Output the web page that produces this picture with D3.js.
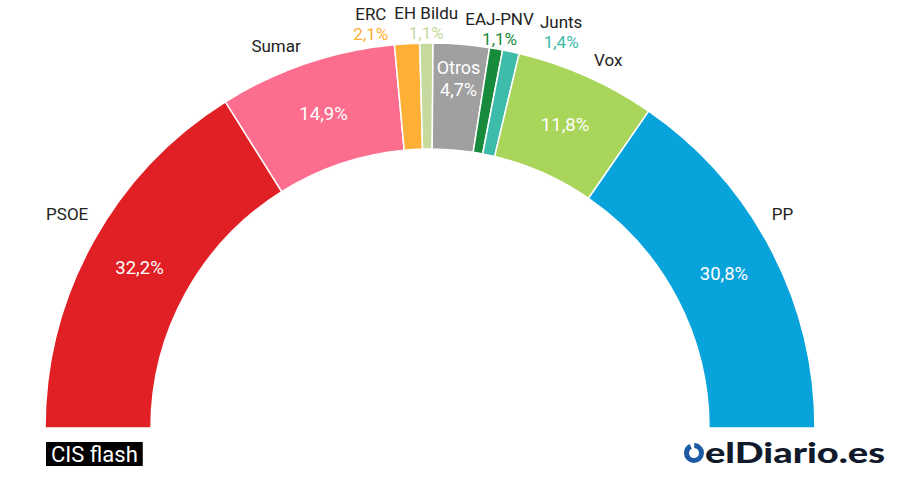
<!DOCTYPE html>
<html>
<head>
<meta charset="utf-8">
<script src="https://cdn.jsdelivr.net/npm/d3@7"></script>
<style>
  body { margin: 0; background: #fff; }
  svg { display: block; font-family: Roboto, "Noto Sans", sans-serif; }
</style>
</head>
<body>
<svg width="900" height="501"></svg>
<script>
"use strict";

// data, left to right along the arc
const parties = ["PSOE", "Sumar", "ERC", "EH Bildu", "Otros", "EAJ-PNV", "Junts", "Vox", "PP"];
const shares = [32.2, 14.9, 2.1, 1.1, 4.7, 1.1, 1.4, 11.8, 30.8];
const colors = ["#e02025", "#fd6d8d", "#fdb035", "#c6da9d", "#a0a0a0", "#178a3b", "#3dbcaa", "#a9d55a", "#09a3dc"];
const sourceLabel = "CIS flash";

const svg = d3.select("svg");

const cx = 430,
  cy = 428,
  outerR = 385,
  innerR = 279;

const data = parties.map((p, i) => ({ party: p, value: shares[i], color: colors[i] }));
const fmt = (v) => d3.format(".1f")(v).replace(".", ",") + "%";

const pie = d3
  .pie()
  .sort(null)
  .value((d) => d.value)
  .startAngle(-Math.PI / 2)
  .endAngle(Math.PI / 2);

const arc = d3.arc().innerRadius(innerR).outerRadius(outerR);
const arcs = pie(data);

const g = svg.append("g").attr("transform", `translate(${cx},${cy})`);

g.selectAll("path")
  .data(arcs)
  .enter()
  .append("path")
  .attr("d", arc)
  .attr("fill", (d) => d.data.color)
  .attr("stroke", "#fff")
  .attr("stroke-width", 1.5);

// point at radius r on the middle angle of a slice (angle can be clamped)
const maxLabelAngle = (58 * Math.PI) / 180;
const polar = (d, r, clamp) => {
  let a = (d.startAngle + d.endAngle) / 2;
  if (clamp) a = Math.max(-maxLabelAngle, Math.min(maxLabelAngle, a));
  return [r * Math.sin(a), -r * Math.cos(a)];
};

const big = arcs.filter((d) => d.data.value >= 10);
const mid = arcs.filter((d) => d.data.value >= 2.5 && d.data.value < 10);
const small = arcs.filter((d) => d.data.value < 2.5);

// big slices: name outside, value inside
big.forEach((d) => {
  const [x, y] = polar(d, 403, true);
  const a = (d.startAngle + d.endAngle) / 2;
  g.append("text")
    .attr("x", x)
    .attr("y", y)
    .attr("dy", "0.35em")
    .attr("text-anchor", a < 0 ? "end" : "start")
    .attr("fill", "#222")
    .style("font-size", "17px")
    .text(d.data.party);

  const [vx, vy] = polar(d, (innerR + outerR) / 2);
  g.append("text")
    .attr("x", vx)
    .attr("y", vy)
    .attr("dy", "0.35em")
    .attr("text-anchor", "middle")
    .attr("fill", "#fff")
    .style("font-size", "18.5px")
    .text(fmt(d.data.value));
});

// medium slices: name and value inside
mid.forEach((d) => {
  const [x, y] = polar(d, outerR - 35);
  const t = g
    .append("text")
    .attr("text-anchor", "middle")
    .attr("fill", "#fff")
    .style("font-size", "18px");
  t.append("tspan").attr("x", x).attr("y", y - 11).attr("dy", "0.35em").text(d.data.party);
  t.append("tspan").attr("x", x).attr("y", y + 11).attr("dy", "0.35em").text(fmt(d.data.value));
});

// small slices: stacked label above the arc, pushed apart sideways
const smallLabels = small.map((d) => {
  const [x, y] = polar(d, 405);
  const lg = g.append("g");
  lg.append("text")
    .attr("y", -10)
    .attr("dy", "0.35em")
    .attr("text-anchor", "middle")
    .attr("fill", "#222")
    .style("font-size", "17px")
    .text(d.data.party);
  lg.append("text")
    .attr("y", 10)
    .attr("dy", "0.35em")
    .attr("text-anchor", "middle")
    .attr("fill", d.data.color)
    .style("font-size", "17px")
    .text(fmt(d.data.value));
  const w = lg.node().getBBox().width;
  return { node: lg, x: x, y: y, w: w };
});

smallLabels.sort((a, b) => a.x - b.x);
const gap = 6;
// right side: push outward to the right
for (let i = 1; i < smallLabels.length; i++) {
  const a = smallLabels[i - 1],
    b = smallLabels[i];
  const overlap = a.x + a.w / 2 + gap - (b.x - b.w / 2);
  if (overlap > 0 && b.x > 0) b.x += overlap;
}
// left side: push outward to the left
for (let i = smallLabels.length - 1; i > 0; i--) {
  const a = smallLabels[i - 1],
    b = smallLabels[i];
  const overlap = a.x + a.w / 2 + gap - (b.x - b.w / 2);
  if (overlap > 0 && a.x <= 0) a.x -= overlap;
}
smallLabels.forEach((l) => l.node.attr("transform", `translate(${l.x},${l.y})`));

// source tag, bottom left
const tag = svg.append("g").attr("transform", `translate(${cx - outerR + 1},${cy + 14})`);
const tagText = tag
  .append("text")
  .attr("x", 5)
  .attr("y", 12)
  .attr("dy", "0.36em")
  .attr("fill", "#fff")
  .style("font-size", "22px")
  .text(sourceLabel);
const tw = tagText.node().getComputedTextLength();
tag.insert("rect", "text")
  .attr("width", tw + 10)
  .attr("height", 24)
  .attr("fill", "#000");

// logo, bottom right
const logo = svg.append("g").attr("transform", `translate(694,${cy + 25})`);
logo.append("circle")
  .attr("r", 7.5)
  .attr("fill", "none")
  .attr("stroke", "#1c5aa6")
  .attr("stroke-width", 5)
  .attr("stroke-dasharray", `${2 * Math.PI * 7.5 - 4} 4`)
  .attr("transform", "rotate(-88)");
logo.append("text")
  .attr("x", 11)
  .attr("y", 10)
  .attr("fill", "#111a2b")
  .style("font-family", "Lato, 'Open Sans', sans-serif")
  .style("font-weight", 900)
  .style("font-size", "29px")
  .attr("textLength", 180)
  .attr("lengthAdjust", "spacingAndGlyphs")
  .text("elDiario.es");
</script>
</body>
</html>
